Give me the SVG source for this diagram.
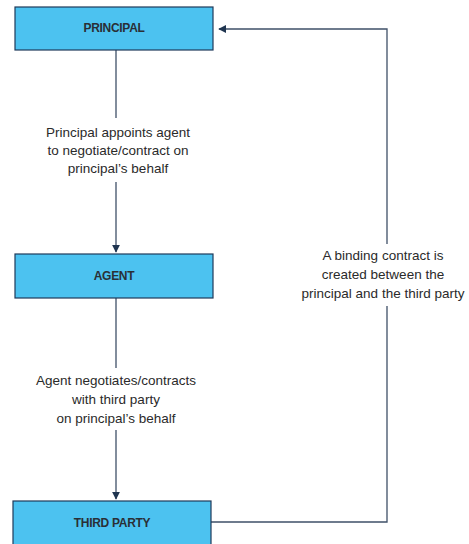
<svg xmlns="http://www.w3.org/2000/svg" width="469" height="544" viewBox="0 0 469 544">
  <defs>
    <marker id="arrow" viewBox="0 0 10 10" refX="9" refY="5" markerWidth="8" markerHeight="8" markerUnits="userSpaceOnUse" orient="auto">
      <path d="M0,0 L10,5 L0,10 z" fill="#1f3550"/>
    </marker>
    <style>
      .box { fill: #4cc2f0; stroke: #1f3a5a; stroke-width: 1.2; }
      .box-label { font-family: "Liberation Sans", Arial, sans-serif; font-size: 12px; font-weight: bold; fill: #2a2f36; text-anchor: middle; letter-spacing: -0.3px; }
      .note { font-family: "Liberation Sans", Arial, sans-serif; font-size: 13.5px; fill: #2a2a2a; text-anchor: middle; }
      .link { fill: none; stroke: #3f5068; stroke-width: 1.3; }
    </style>
  </defs>
  <rect width="469" height="544" fill="#ffffff"/>

  <!-- connectors -->
  <g id="connectors">
    <path class="link" d="M116,50 V118"/>
    <path class="link" d="M116,182 V252" marker-end="url(#arrow)"/>
    <path class="link" d="M116,298 V368"/>
    <path class="link" d="M116,430 V499" marker-end="url(#arrow)"/>
    <path class="link" d="M211,522 H387 V306"/>
    <path class="link" d="M387,244 V29 H219" marker-end="url(#arrow)"/>
    <text class="note" x="118" y="137">Principal appoints agent</text>
    <text class="note" x="118" y="155">to negotiate/contract on</text>
    <text class="note" x="118" y="173">principal’s behalf</text>
    <text class="note" x="116" y="385">Agent negotiates/contracts</text>
    <text class="note" x="116" y="404">with third party</text>
    <text class="note" x="116" y="423">on principal’s behalf</text>
    <text class="note" x="383" y="260">A binding contract is</text>
    <text class="note" x="383" y="279">created between the</text>
    <text class="note" x="383" y="298">principal and the third party</text>
  </g>

  <g id="principal">
    <rect class="box" x="15" y="7" width="198" height="43"/>
    <text class="box-label" x="114" y="32">PRINCIPAL</text>
  </g>
  <g id="agent">
    <rect class="box" x="15" y="254" width="198" height="44"/>
    <text class="box-label" x="114" y="280">AGENT</text>
  </g>
  <g id="third-party">
    <rect class="box" x="13" y="501" width="198" height="50"/>
    <text class="box-label" x="112" y="527">THIRD PARTY</text>
  </g>
</svg>
